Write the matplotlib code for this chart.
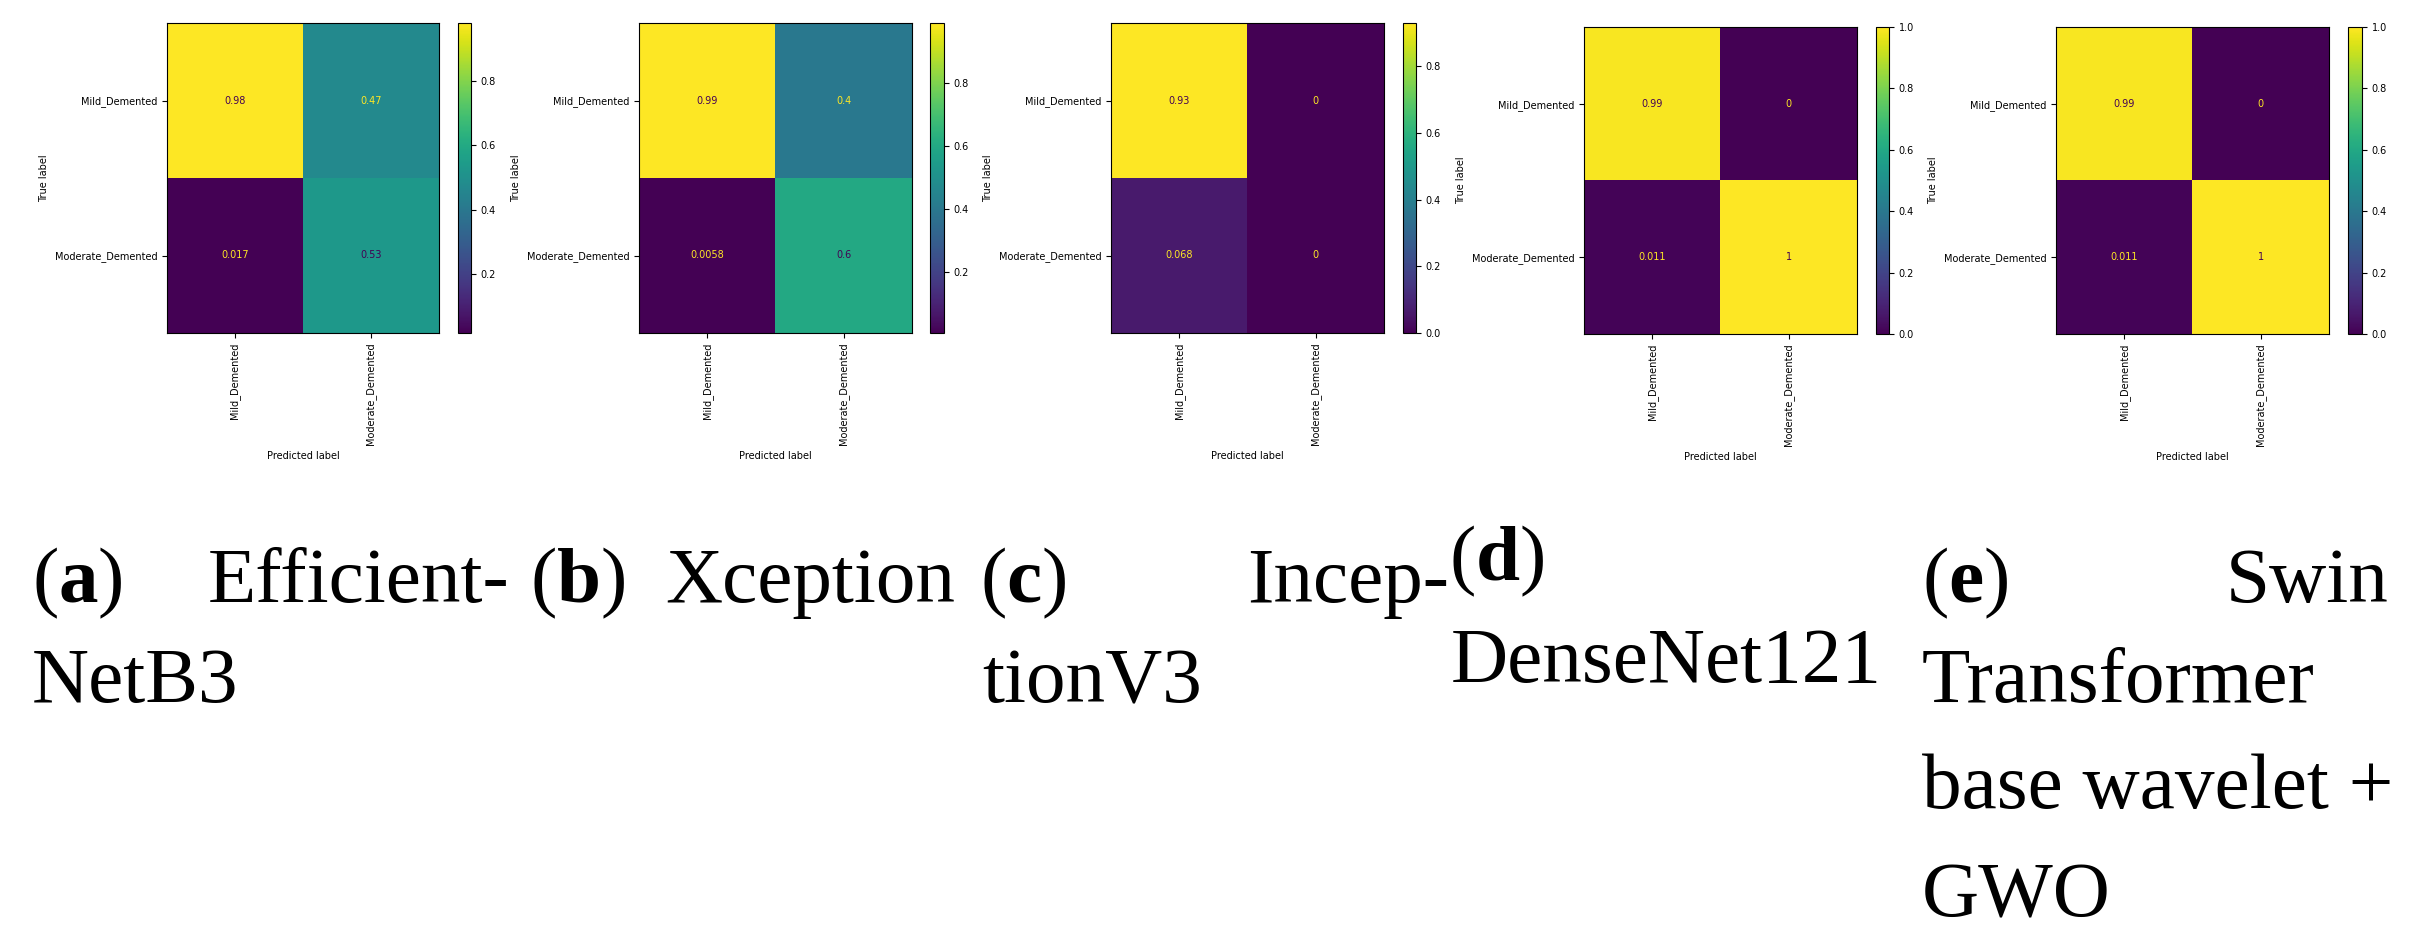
import matplotlib
matplotlib.use('Agg')
import matplotlib.pyplot as plt
import numpy as np

# class names and normalised confusion matrices (rows = true, cols = predicted)
classes = ['Mild_Demented', 'Moderate_Demented']
effnet_cm = [[0.98, 0.47], [0.017, 0.53]]
xception_cm = [[0.99, 0.4], [0.0058, 0.6]]
inception_cm = [[0.93, 0.0], [0.068, 0.0]]
densenet_cm = [[0.99, 0.0], [0.011, 1.0]]
swin_cm = [[0.99, 0.0], [0.011, 1.0]]

W, H = 2433, 950

plt.rcParams['mathtext.fontset'] = 'custom'
plt.rcParams['mathtext.rm'] = 'Liberation Serif'
plt.rcParams['mathtext.bf'] = 'Liberation Serif:bold'

fig = plt.figure(figsize=(W / 100, H / 100), dpi=100)
cmap = plt.get_cmap('viridis')


def px_rect(x0, x1, y0, y1):
    """pixel box (top-left origin) -> figure fraction rect"""
    return [x0 / W, 1 - y1 / H, (x1 - x0) / W, (y1 - y0) / H]


def draw_cm(cm, ax_box, cb_box):
    cm = np.array(cm)
    ax = fig.add_axes(px_rect(*ax_box))
    cax = fig.add_axes(px_rect(*cb_box))
    im = ax.imshow(cm, cmap=cmap, aspect='auto', interpolation='nearest')
    fig.colorbar(im, cax=cax)
    thresh = (cm.max() + cm.min()) / 2.0
    for i in range(cm.shape[0]):
        for j in range(cm.shape[1]):
            color = cmap(0) if cm[i, j] >= thresh else cmap(1.0)
            ax.text(j, i, format(cm[i, j], '.2g'), ha='center', va='center',
                    color=color, fontsize=7)
    ax.set_xticks(range(len(classes)))
    ax.set_yticks(range(len(classes)))
    ax.set_xticklabels(classes, rotation=90, fontsize=7)
    ax.set_yticklabels(classes, fontsize=7)
    ax.set_xlabel('Predicted label', fontsize=7)
    ax.set_ylabel('True label', fontsize=7)
    cax.tick_params(labelsize=7)
    return ax


draw_cm(effnet_cm, (167, 439, 23, 333), (458, 471, 23, 333))
draw_cm(xception_cm, (639, 912, 23, 333), (930, 944, 23, 333))
draw_cm(inception_cm, (1111, 1384, 23, 333), (1403, 1416, 23, 333))
draw_cm(densenet_cm, (1584, 1857, 27, 334), (1876, 1889, 27, 334))
draw_cm(swin_cm, (2056, 2329, 27, 334), (2348, 2362, 27, 334))

# sub-figure captions (justified two-column style)
cap_kw = dict(fontsize=57, family='Liberation Serif', va='baseline')


def cap(x, y, s, ha='left'):
    fig.text(x / W, 1 - y / H, s, ha=ha, **cap_kw)


cap(32, 602, r'($\mathbf{a}$)')
cap(510, 602, 'Efficient-', ha='right')
cap(32, 702, 'NetB3')

cap(530, 602, r'($\mathbf{b}$)')
cap(955, 602, 'Xception', ha='right')

cap(980, 602, r'($\mathbf{c}$)')
cap(1449, 602, 'Incep-', ha='right')
cap(982, 702, 'tionV3')

cap(1449, 580, r'($\mathbf{d}$)')
cap(1451, 682, 'DenseNet121')

cap(1922, 602, r'($\mathbf{e}$)')
cap(2389, 602, 'Swin', ha='right')
cap(1922, 702, 'Transformer')
cap(1922, 808, 'base wavelet +')
cap(1922, 917, 'GWO')

fig.savefig('out.png', dpi=100, facecolor='white')
plt.close(fig)
